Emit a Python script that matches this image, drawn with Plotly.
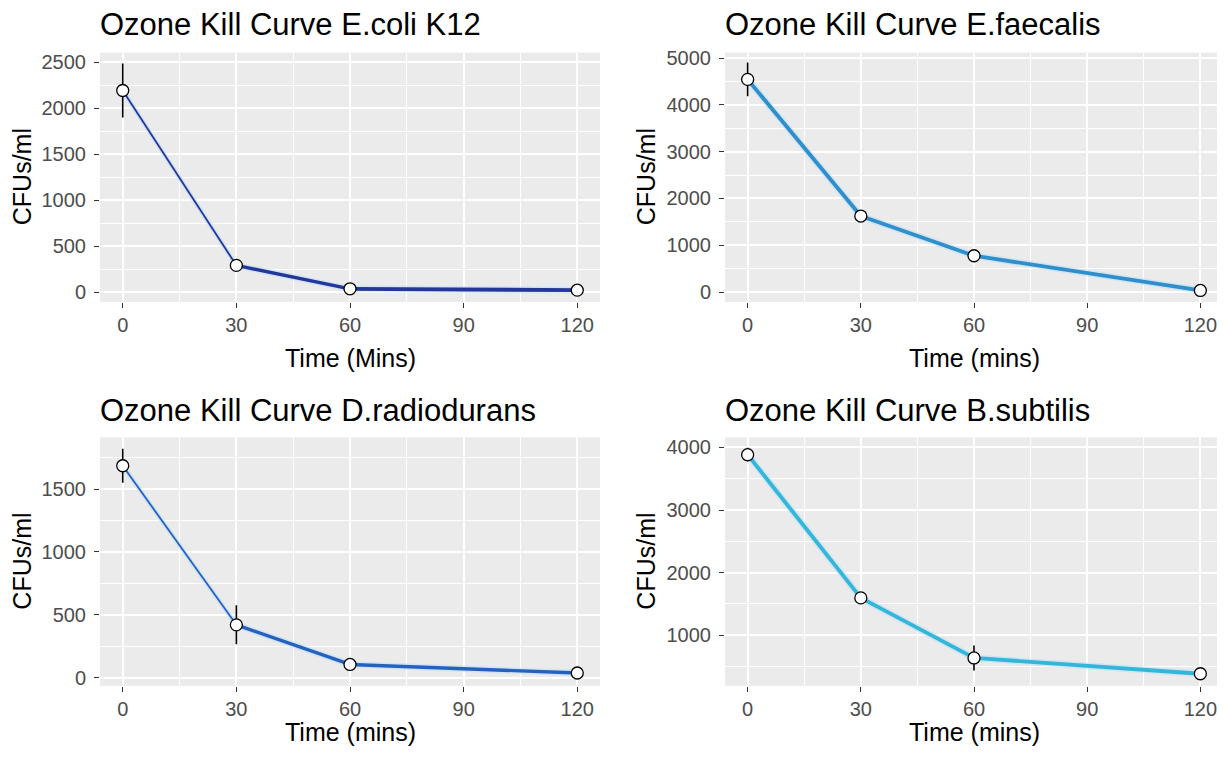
import plotly.graph_objects as go

# ---------------- data ----------------
time = [0, 30, 60, 120]

titles = ["Ozone Kill Curve E.coli K12", "Ozone Kill Curve E.faecalis",
          "Ozone Kill Curve D.radiodurans", "Ozone Kill Curve B.subtilis"]
xlabels = ["Time (Mins)", "Time (mins)", "Time (mins)", "Time (mins)"]
ylabel = "CFUs/ml"

ecoli = [2195, 290, 35, 20]
ecoli_err = [295, 30, 10, 5]
faecalis = [4545, 1625, 777, 35]
faecalis_err = [360, 60, 40, 20]
radiodurans = [1685, 420, 105, 37]
radiodurans_err = [135, 155, 15, 8]
subtilis = [3885, 1596, 636, 383]
subtilis_err = [110, 30, 200, 15]

x_ticks = [0, 30, 60, 90, 120]
y_ticks = [
    [0, 500, 1000, 1500, 2000, 2500],
    [0, 1000, 2000, 3000, 4000, 5000],
    [0, 500, 1000, 1500],
    [1000, 2000, 3000, 4000],
]

# ---------------- styles ----------------
W, H = 1225, 759
OFF = 8  # page body margin offset (screen px -> figure px)
colors = ["#24369A", "#2E8FCB", "#2562BE", "#33B7D9"]
seg_widths = [[1.8, 3.4, 3.8], [3.8, 3.8, 3.8], [1.8, 3.4, 3.4], [3.8, 3.8, 3.8]]
y_ranges = [[-108, 2608], [-210, 5118], [-65, 1910], [190, 4160]]
# panel boxes in screen pixels: left, right, top, bottom
boxes = [(100, 600, 48, 300), (725, 1223, 48, 300),
         (100, 600, 437, 688), (725, 1223, 437, 688)]
title_y = [20, 20, 410, 410]
xlab_y = [357, 357, 735, 735]
ylab_x = [22, 646, 22, 646]

FONT = "Liberation Sans, Arial, sans-serif"
series = [ecoli, faecalis, radiodurans, subtilis]
errors = [ecoli_err, faecalis_err, radiodurans_err, subtilis_err]


def fx(px):
    return (px - OFF) / W


def fy(py):
    return 1 - (py - OFF) / H


fig = go.Figure()
annotations = []
layout_axes = {}

for i in range(4):
    xa = "x" if i == 0 else f"x{i+1}"
    ya = "y" if i == 0 else f"y{i+1}"
    l, r, t, b = boxes[i]
    ys = series[i]
    for s in range(len(time) - 1):
        fig.add_trace(go.Scatter(
            x=time[s:s+2], y=ys[s:s+2], mode="lines",
            line=dict(color="rgba(190,220,250,0.55)", width=seg_widths[i][s] + 3),
            xaxis=xa, yaxis=ya, showlegend=False, hoverinfo="skip"))
    for s in range(len(time) - 1):
        fig.add_trace(go.Scatter(
            x=time[s:s+2], y=ys[s:s+2], mode="lines",
            line=dict(color=colors[i], width=seg_widths[i][s]),
            xaxis=xa, yaxis=ya, showlegend=False, hoverinfo="skip"))
    fig.add_trace(go.Scatter(
        x=time, y=ys, mode="markers",
        marker=dict(size=12, color="white", line=dict(color="black", width=1.3)),
        error_y=dict(type="data", array=errors[i], visible=True,
                     color="black", thickness=1.6, width=0),
        xaxis=xa, yaxis=ya, showlegend=False))

    xkey = "xaxis" if i == 0 else f"xaxis{i+1}"
    ykey = "yaxis" if i == 0 else f"yaxis{i+1}"
    yt = y_ticks[i]
    ystep = yt[1] - yt[0]
    layout_axes[xkey] = dict(
        domain=[fx(l), fx(r)], anchor=ya, range=[-6, 126],
        tickmode="array", tickvals=x_ticks, ticktext=[str(v) for v in x_ticks],
        ticks="outside", ticklen=5, tickwidth=1.3, tickcolor="#333333",
        tickfont=dict(family=FONT, size=20, color="#4D4D4D"),
        showgrid=True, gridcolor="white", gridwidth=1.6,
        zeroline=False, showline=False,
        minor=dict(tickmode="array", tickvals=[15, 45, 75, 105],
                   showgrid=True, gridcolor="white", gridwidth=0.8, ticks=""),
    )
    layout_axes[ykey] = dict(
        domain=[fy(b), fy(t)], anchor=xa, range=y_ranges[i],
        tickmode="array", tickvals=yt, ticktext=[str(v) for v in yt],
        ticks="outside", ticklen=5, tickwidth=1.3, tickcolor="#333333",
        ticklabelstandoff=4,
        tickfont=dict(family=FONT, size=20, color="#4D4D4D"),
        showgrid=True, gridcolor="white", gridwidth=1.6,
        zeroline=False, showline=False,
        minor=dict(tickmode="array",
                   tickvals=[v + ystep / 2 for v in [yt[0] - ystep] + yt],
                   showgrid=True, gridcolor="white", gridwidth=0.8, ticks=""),
    )
    annotations.append(dict(
        text=titles[i], xref="paper", yref="paper", x=fx(l - 2), y=fy(title_y[i]),
        xanchor="left", yanchor="middle", showarrow=False,
        font=dict(family=FONT, size=31, color="black")))
    annotations.append(dict(
        text=xlabels[i], xref="paper", yref="paper", x=fx((l + r) / 2),
        y=fy(xlab_y[i]), xanchor="center", yanchor="middle", showarrow=False,
        font=dict(family=FONT, size=25, color="black")))
    annotations.append(dict(
        text=ylabel, xref="paper", yref="paper", x=fx(ylab_x[i]),
        y=fy((t + b) / 2), xanchor="center", yanchor="middle", showarrow=False,
        textangle=-90, font=dict(family=FONT, size=25, color="black")))

fig.update_layout(
    width=W, height=H, margin=dict(l=0, r=0, t=0, b=0),
    paper_bgcolor="white", plot_bgcolor="#EBEBEB",
    annotations=annotations, showlegend=False,
    **layout_axes,
)

fig.write_html("out.html")
